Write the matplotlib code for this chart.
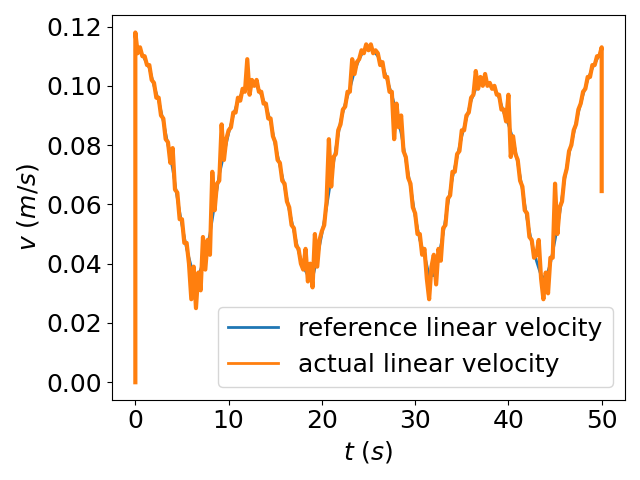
import numpy as np
import matplotlib
matplotlib.use("Agg")
import matplotlib.pyplot as plt

# reference linear velocity, sampled every 0.5 s (0 .. 50 s)
t_ref = np.arange(0, 50.01, 0.5)
v_ref = [
    0.112, 0.112, 0.109, 0.106, 0.100, 0.095, 0.088, 0.080, 0.072, 0.062,
    0.053, 0.045, 0.039, 0.034, 0.038, 0.043, 0.050, 0.060, 0.070, 0.077,
    0.084, 0.090, 0.095, 0.098, 0.100, 0.101, 0.100, 0.097, 0.093, 0.088,
    0.080, 0.073, 0.066, 0.058, 0.051, 0.044, 0.039, 0.036, 0.035, 0.042,
    0.050, 0.059, 0.069, 0.079, 0.088, 0.094, 0.099, 0.105, 0.109, 0.112,
    0.113, 0.112, 0.110, 0.107, 0.102, 0.097, 0.091, 0.084, 0.075, 0.066,
    0.056, 0.048, 0.043, 0.036, 0.036, 0.042, 0.050, 0.060, 0.069, 0.076,
    0.083, 0.089, 0.095, 0.099, 0.101, 0.101, 0.100, 0.099, 0.096, 0.091,
    0.087, 0.082, 0.074, 0.065, 0.055, 0.047, 0.041, 0.036, 0.035, 0.040,
    0.048, 0.057, 0.068, 0.077, 0.084, 0.091, 0.097, 0.102, 0.106, 0.109,
    0.112,
]

# measured linear velocity, sampled every 0.25 s, with the jump at start and end
t_act = np.concatenate([[0.0], np.arange(0, 50.01, 0.25), [50.0]])
v_act = [
    0.000,
    0.118, 0.111, 0.113, 0.110, 0.110, 0.107, 0.107, 0.102,
    0.101, 0.096, 0.096, 0.090, 0.089, 0.082, 0.081, 0.074,
    0.079, 0.065, 0.064, 0.055, 0.055, 0.047, 0.047, 0.040,
    0.028, 0.039, 0.025, 0.037, 0.031, 0.049, 0.038, 0.048,
    0.043, 0.071, 0.058, 0.067, 0.068, 0.087, 0.075, 0.082,
    0.085, 0.086, 0.091, 0.091, 0.096, 0.095, 0.099, 0.098,
    0.109, 0.097, 0.102, 0.100, 0.102, 0.098, 0.098, 0.094,
    0.094, 0.089, 0.089, 0.083, 0.081, 0.075, 0.074, 0.068,
    0.067, 0.061, 0.059, 0.053, 0.052, 0.046, 0.045, 0.040,
    0.038, 0.045, 0.034, 0.040, 0.032, 0.050, 0.039, 0.048,
    0.051, 0.053, 0.061, 0.082, 0.066, 0.076, 0.077, 0.085,
    0.087, 0.092, 0.093, 0.098, 0.098, 0.109, 0.104, 0.108,
    0.109, 0.112, 0.111, 0.114, 0.112, 0.114, 0.111, 0.112,
    0.111, 0.107, 0.108, 0.103, 0.103, 0.098, 0.098, 0.082,
    0.094, 0.086, 0.090, 0.078, 0.076, 0.069, 0.067, 0.059,
    0.057, 0.050, 0.050, 0.043, 0.045, 0.035, 0.028, 0.039,
    0.043, 0.033, 0.045, 0.041, 0.052, 0.053, 0.062, 0.063,
    0.071, 0.071, 0.077, 0.078, 0.085, 0.085, 0.090, 0.091,
    0.096, 0.097, 0.105, 0.099, 0.103, 0.100, 0.104, 0.100,
    0.101, 0.099, 0.100, 0.097, 0.097, 0.092, 0.092, 0.088,
    0.097, 0.076, 0.083, 0.077, 0.075, 0.068, 0.066, 0.058,
    0.057, 0.049, 0.048, 0.042, 0.043, 0.048, 0.035, 0.028,
    0.037, 0.030, 0.042, 0.042, 0.067, 0.050, 0.059, 0.061,
    0.069, 0.072, 0.078, 0.080, 0.085, 0.087, 0.092, 0.094,
    0.098, 0.099, 0.103, 0.103, 0.107, 0.107, 0.110, 0.110,
    0.113,
    0.0645,
]

fig, ax = plt.subplots(figsize=(6.4, 4.8), dpi=100)
ax.plot(t_ref, v_ref, lw=2, label='reference linear velocity')
# thicker line stands in for the dense sensor noise band
ax.plot(t_act, v_act, lw=3, label='actual linear velocity')
ax.set_xlabel('$t\\ (s)$', fontsize=18)
ax.set_ylabel('$v\\ (m/s)$', fontsize=18)
ax.tick_params(labelsize=18)
leg = ax.legend(loc='lower right', fontsize=18)
for h in leg.get_lines():
    h.set_linewidth(2)
fig.tight_layout()
fig.savefig('out.png')
